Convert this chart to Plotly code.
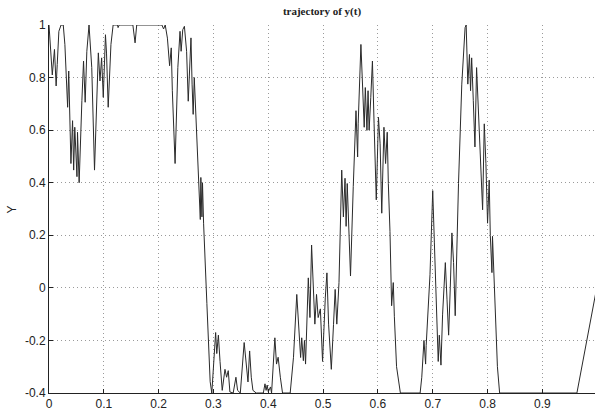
import plotly.graph_objects as go

# digitised trajectory (t, y)
t = [0.000, 0.006, 0.010, 0.013, 0.015, 0.018, 0.022, 0.026, 0.029, 0.034,
     0.036, 0.040, 0.043, 0.045, 0.047, 0.051, 0.052, 0.055, 0.060, 0.063,
     0.066, 0.069, 0.073, 0.078, 0.083, 0.087, 0.090, 0.093, 0.096, 0.099,
     0.101, 0.103, 0.105, 0.108, 0.113, 0.117, 0.125, 0.126, 0.128, 0.153,
     0.157, 0.160, 0.206, 0.209, 0.212, 0.216, 0.220, 0.223, 0.225, 0.230,
     0.235, 0.239, 0.241, 0.244, 0.247, 0.251, 0.254, 0.259, 0.261, 0.263,
     0.265, 0.268, 0.272, 0.276, 0.277, 0.279, 0.280, 0.282, 0.288, 0.294,
     0.297, 0.301, 0.304, 0.306, 0.309, 0.312, 0.316, 0.321, 0.324, 0.327,
     0.330, 0.336, 0.341, 0.344, 0.349, 0.356, 0.359, 0.363, 0.366, 0.369,
     0.372, 0.378, 0.391, 0.394, 0.396, 0.398, 0.400, 0.404, 0.406, 0.412,
     0.415, 0.418, 0.422, 0.426, 0.440, 0.446, 0.452, 0.457, 0.459, 0.461,
     0.464, 0.466, 0.468, 0.473, 0.476, 0.479, 0.482, 0.485, 0.488, 0.491,
     0.495, 0.499, 0.504, 0.507, 0.510, 0.515, 0.519, 0.522, 0.525, 0.529,
     0.534, 0.537, 0.540, 0.542, 0.544, 0.550, 0.555, 0.560, 0.563, 0.564,
     0.569, 0.572, 0.575, 0.577, 0.580, 0.582, 0.584, 0.587, 0.590, 0.593,
     0.597, 0.601, 0.604, 0.607, 0.611, 0.614, 0.617, 0.619, 0.622, 0.625,
     0.628, 0.630, 0.634, 0.641, 0.677, 0.680, 0.684, 0.687, 0.688, 0.695,
     0.700, 0.703, 0.707, 0.710, 0.712, 0.715, 0.718, 0.723, 0.726, 0.729,
     0.732, 0.735, 0.738, 0.741, 0.747, 0.753, 0.759, 0.761, 0.764, 0.767,
     0.769, 0.771, 0.774, 0.777, 0.780, 0.783, 0.786, 0.791, 0.794, 0.797,
     0.800, 0.803, 0.805, 0.808, 0.809, 0.812, 0.818, 0.822, 0.963, 1.000]

y = [1.000, 0.810, 0.907, 0.768, 0.850, 0.976, 1.000, 1.000, 0.925, 0.687,
     0.825, 0.473, 0.636, 0.448, 0.611, 0.423, 0.592, 0.400, 0.712, 0.863,
     0.706, 0.900, 1.000, 0.838, 0.448, 0.712, 0.894, 0.787, 0.875, 0.725,
     0.840, 0.963, 0.890, 0.687, 0.926, 1.000, 1.000, 0.990, 1.000, 1.000,
     0.932, 1.000, 1.000, 0.985, 1.000, 0.950, 0.845, 0.913, 0.750, 0.473,
     0.838, 0.976, 0.900, 0.982, 0.995, 0.900, 0.710, 0.951, 0.775, 0.660,
     0.800, 0.660, 0.420, 0.260, 0.420, 0.270, 0.400, 0.246, -0.060, -0.357,
     -0.400, -0.250, -0.170, -0.250, -0.180, -0.280, -0.390, -0.310, -0.340, -0.315,
     -0.396, -0.400, -0.340, -0.390, -0.400, -0.208, -0.276, -0.358, -0.240, -0.340,
     -0.390, -0.400, -0.400, -0.365, -0.390, -0.370, -0.395, -0.377, -0.400, -0.190,
     -0.290, -0.264, -0.340, -0.400, -0.400, -0.264, -0.025, -0.176, -0.265, -0.190,
     -0.277, -0.200, -0.290, 0.038, -0.113, 0.163, 0.000, -0.138, -0.025, -0.113,
     -0.080, -0.280, -0.038, 0.057, -0.138, -0.310, -0.140, -0.006, -0.138, 0.020,
     0.448, 0.270, 0.417, 0.234, 0.397, 0.045, 0.385, 0.674, 0.498, 0.624,
     0.926, 0.750, 0.611, 0.762, 0.599, 0.750, 0.600, 0.725, 0.863, 0.624,
     0.335, 0.649, 0.548, 0.284, 0.611, 0.473, 0.592, 0.397, 0.215, -0.068,
     0.020, -0.110, -0.300, -0.400, -0.400, -0.340, -0.200, -0.290, -0.220, 0.050,
     0.370, 0.171, -0.106, -0.280, -0.180, -0.294, -0.100, 0.096, -0.043, -0.180,
     0.000, 0.209, 0.096, -0.106, 0.397, 0.775, 0.990, 1.000, 0.775, 0.888,
     0.750, 0.875, 0.712, 0.536, 0.838, 0.700, 0.548, 0.297, 0.624, 0.473,
     0.246, 0.410, 0.200, 0.058, 0.196, 0.020, -0.300, -0.400, -0.400, 0.010]

x_ticks = [0, 0.1, 0.2, 0.3, 0.4, 0.5, 0.6, 0.7, 0.8, 0.9]
x_tick_text = ["0", "0.1", "0.2", "0.3", "0.4", "0.5", "0.6", "0.7", "0.8", "0.9"]
y_ticks = [-0.4, -0.2, 0, 0.2, 0.4, 0.6, 0.8, 1]
y_tick_text = ["-0.4", "-0.2", "0", "0.2", "0.4", "0.6", "0.8", "1"]

fig = go.Figure()
fig.add_trace(go.Scatter(x=t, y=y, mode="lines",
                         line=dict(color="#2a2a2a", width=1), showlegend=False))

axis_common = dict(
    showgrid=True, gridcolor="#9a9a9a", griddash="1px,3px", gridwidth=1,
    zeroline=False, showline=True, linecolor="#222", linewidth=1,
    ticks="inside", ticklen=4, tickcolor="#222", mirror=False,
    tickfont=dict(family="Liberation Sans, Arial", size=12, color="#222"),
)

fig.update_layout(
    width=595, height=411,
    margin=dict(l=49, r=0, t=25, b=15),
    paper_bgcolor="white", plot_bgcolor="white",
    xaxis=dict(range=[0, 0.996], tickvals=x_ticks, ticktext=x_tick_text, **axis_common),
    yaxis=dict(range=[-0.4, 1], tickvals=y_ticks, ticktext=y_tick_text, **axis_common),
    title=dict(text="<b>trajectory of y(t)</b>", x=0.5, xref="paper", y=0.972, yref="container",
               xanchor="center", yanchor="middle",
               font=dict(family="Liberation Serif, Times New Roman", size=11, color="#222")),
    annotations=[dict(text="Y", textangle=-90, xref="paper", yref="paper",
                      x=(12 - 49) / 546, y=(396 - 211) / 371, showarrow=False,
                      xanchor="center", yanchor="middle",
                      font=dict(family="Liberation Sans, Arial", size=12, color="#222"))],
)

fig.write_html("out.html", config={"displayModeBar": False},
               post_script="document.body.style.margin='0';document.body.style.overflow='hidden';")
